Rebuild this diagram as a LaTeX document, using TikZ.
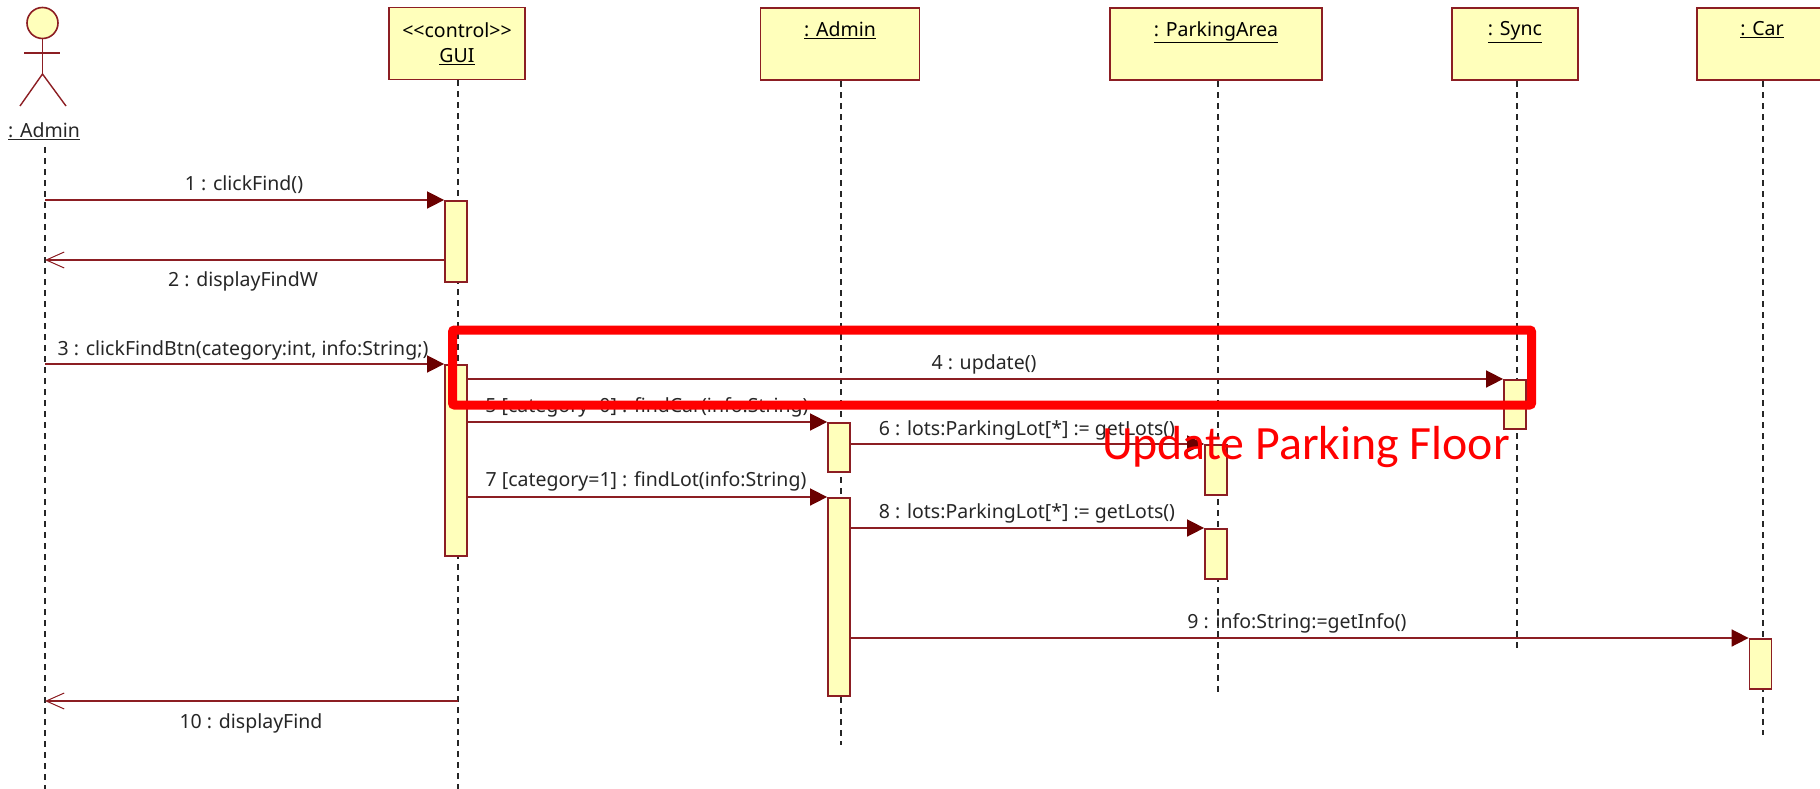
\documentclass[tikz,border=0pt]{standalone}
\usepackage{fontspec}
\setmainfont{Noto Sans}
\newfontfamily\notefont{Carlito}
\usepackage{tikz}
\usetikzlibrary{arrows.meta}
\definecolor{umlline}{RGB}{140,30,35}
\definecolor{umlfill}{RGB}{255,255,187}
\definecolor{umltip}{RGB}{107,0,0}
\tikzset{
  classbox/.style={draw=umlline,fill=umlfill,line width=1.8pt,inner sep=0pt,align=center,font=\fontsize{19.5}{25}\selectfont},
  activation/.style={draw=umlline,fill=umlfill,line width=1.8pt,inner sep=0pt,minimum width=22pt,anchor=north},
  lifeline/.style={black!85,line width=2pt,dash pattern=on 6pt off 5pt},
  call/.style={draw=umlline,line width=1.6pt,-{Triangle[length=17pt,width=17pt,color=umltip]}},
  reply/.style={draw=umlline,line width=1.6pt,-{Straight Barb[length=18pt,width=16pt,line width=1pt]}},
  msg/.style={inner sep=0pt,text=black!85,font=\fontsize{19.5}{22}\selectfont},
  figure/.style={draw=umlline,line width=1.4pt}
}
\begin{document}
\begin{tikzpicture}[x=1pt,y=-1pt]
        \useasboundingbox (0,0) rectangle (1820,789);

        \node[circle,draw=umlline,fill=umlfill,line width=1.6pt,minimum size=31pt,inner sep=0pt] (H) at (42.5,23) {};
        \coordinate (N) at (42.5,74);
        \coordinate (LL) at (20,106);
        \coordinate (LR) at (66,106);
        \coordinate (AL) at (24,53);
        \coordinate (AR) at (60,53);
        \draw[figure] (H.south) -- (N);
        \draw[figure] (AL) -- (AR);
        \draw[figure] (LL) -- (N) -- (LR);
        \node[msg] (U) at (44,131) {\underline{: Admin}};

        \node[classbox,minimum width=136pt,minimum height=72pt] (G) at (457,43.5) {<{}<control>{}>\\\underline{GUI}};
        \node[classbox,minimum width=159pt,minimum height=72pt,anchor=north] (A) at (840,7.5) {\underline{: Admin}\\[6pt]};
        \node[classbox,minimum width=212pt,minimum height=72pt,anchor=north] (P) at (1216,7.5) {\underline{: ParkingArea}\\[6pt]};
        \node[classbox,minimum width=126pt,minimum height=72pt,anchor=north] (S) at (1515,7.5) {\underline{: Sync}\\[6pt]};
        \node[classbox,minimum width=130pt,minimum height=72pt,anchor=north] (C) at (1762,7.5) {\underline{: Car}\\[6pt]};

        \coordinate (Uend) at (45,789);
        \coordinate (Utop) at (45,147);
        \coordinate (Gend) at (457.5,789);
        \coordinate (Aend) at (840.5,745);
        \coordinate (Pend) at (1218,697);
        \coordinate (Send) at (1517,653);
        \coordinate (Cend) at (1762.5,735);
        \draw[lifeline] (Utop) -- (Uend);
        \draw[lifeline] (G.south -| Gend) -- (Gend);
        \draw[lifeline] (A.south -| Aend) -- (Aend);
        \draw[lifeline] (P.south -| Pend) -- (Pend);
        \draw[lifeline] (S.south -| Send) -- (Send);
        \draw[lifeline] (C.south -| Cend) -- (Cend);

        \node[activation,minimum height=81pt] (G1) at (456,200) {};
        \node[activation,minimum height=191pt] (G2) at (456,364) {};
        \node[activation,minimum height=49pt] (A1) at (839,422) {};
        \node[activation,minimum height=198pt] (A2) at (839,497) {};
        \node[activation,minimum height=50pt] (P1) at (1216,444) {};
        \node[activation,minimum height=50pt] (P2) at (1216,528) {};
        \node[activation,minimum height=49pt] (S1) at (1515,379) {};
        \node[activation,minimum height=50pt] (C1) at (1760.5,638) {};

        \coordinate (R2) at (45,260);
        \coordinate (R10) at (45,701);
        \draw[call] (Utop |- G1.north) -- (G1.north west);
        \draw[reply] (G1.west |- R2) -- (R2);
        \draw[call] (Utop |- G2.north) -- (G2.north west);
        \draw[call] (G2.east |- S1.north) -- (S1.north west);
        \draw[call] (G2.east |- A1.north) -- (A1.north west);
        \draw[call] (A1.east |- P1.north) -- (P1.north west);
        \draw[call] (G2.east |- A2.north) -- (A2.north west);
        \draw[call] (A2.east |- P2.north) -- (P2.north west);
        \draw[call] (A2.east |- C1.north) -- (C1.north west);
        \draw[reply] (Gend |- R10) -- (R10);

        \node[msg] (M1) at (244,185) {1 : clickFind()};
        \node[msg] (M2) at (243,281) {2 : displayFindW};
        \node[msg] (M3) at (243,350) {3 : clickFindBtn(category:int, info:String;)};
        \node[msg] (M4) at (984,364) {4 : update()};
        \node[msg] (M5) at (647,407) {5 [category=0] : findCar(info:String)};
        \node[msg] (M6) at (1027,430) {6 : lots:ParkingLot[*] := getLots()};
        \node[msg] (M7) at (646,481) {7 [category=1] : findLot(info:String)};
        \node[msg] (M8) at (1027,513) {8 : lots:ParkingLot[*] := getLots()};
        \node[msg] (M9) at (1297,623) {9 : info:String:=getInfo()};
        \node[msg] (M10) at (251,723) {10 : displayFind};

        \node[draw=red,line width=9pt,rounded corners=2pt,minimum width=1079pt,minimum height=75pt,inner sep=0pt] (R) at (992,367.5) {};
        \node[inner sep=0pt,text=red,font=\notefont\fontsize{47.8}{50}\selectfont] (T) at (1306,447) {Update Parking Floor};
      \end{tikzpicture}
\end{document}
